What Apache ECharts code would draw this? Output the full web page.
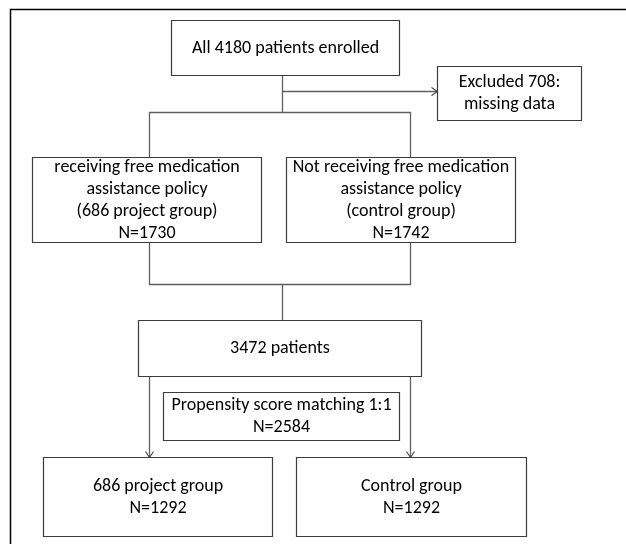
<!DOCTYPE html>
<html>
<head>
<meta charset="utf-8">
<script src="https://cdn.jsdelivr.net/npm/echarts@6/dist/echarts.min.js"></script>
<style>
  html, body { margin: 0; padding: 0; background: #fff; }
  #chart { width: 626px; height: 544px; }
</style>
</head>
<body>
<div id="chart"></div>
<script>
// text of each box in the flow chart
const boxLabels = [
  'All 4180 patients enrolled',
  'Excluded 708:\nmissing data',
  'receiving free medication\nassistance policy\n(686 project group)\nN=1730',
  'Not receiving free medication\nassistance policy\n(control group)\nN=1742',
  '3472 patients',
  'Propensity score matching 1:1\nN=2584',
  '686 project group\nN=1292',
  'Control group\nN=1292'
]

// layout: [x0, y0, x1, y1] in page units (y grows downward)
const boxLayout = [
  [171, 20, 399, 75],
  [437, 66, 581, 120],
  [32, 157, 261, 242],
  [286, 157, 515, 242],
  [138, 320, 421, 376],
  [163, 392, 399, 440],
  [43, 457, 272, 536],
  [296, 457, 526, 536]
]

// connectors: list of points, and whether they end in an arrow
const linkPaths = [
  [[282, 75], [282, 112]],
  [[282, 91], [437, 91]],
  [[149, 157], [149, 112], [410, 112], [410, 157]],
  [[149, 242], [149, 284], [410, 284], [410, 242]],
  [[282, 284], [282, 320]],
  [[149, 376], [149, 457]],
  [[410, 376], [410, 457]]
]
const linkArrow = [false, true, false, false, false, true, true]

const FONT = '18px Carlito, Lato, sans-serif'

const chart = echarts.init(document.getElementById('chart'), null, { renderer: 'canvas' })

function crisp(p) {
  return [Math.round(p[0]) + 0.5, Math.round(p[1]) + 0.5]
}

chart.setOption({
  backgroundColor: '#fff',
  animation: false,
  grid: { left: 0, right: 0, top: 0, bottom: 0 },
  xAxis: { type: 'value', min: 0, max: 626, show: false },
  yAxis: { type: 'value', min: 0, max: 544, inverse: true, show: false },
  series: [
    {
      // outer frame (left and top edges only visible)
      type: 'custom',
      silent: true,
      data: [[0]],
      renderItem(params, api) {
        const pts = [[10, 560], [10, 9], [640, 9]].map(p => crisp(api.coord(p)))
        return {
          type: 'polyline',
          shape: { points: pts },
          style: { stroke: '#000', lineWidth: 1.5, fill: null }
        }
      }
    },
    {
      type: 'custom',
      silent: true,
      data: linkPaths.map((p, i) => [i]),
      renderItem(params, api) {
        const i = params.dataIndex
        const pts = linkPaths[i].map(p => crisp(api.coord(p)))
        const children = [{
          type: 'polyline',
          shape: { points: pts },
          style: { stroke: '#5f5f5f', lineWidth: 1.3, fill: null }
        }]
        if (linkArrow[i]) {
          const a = pts[pts.length - 2]
          const b = pts[pts.length - 1]
          const dx = Math.sign(b[0] - a[0])
          const dy = Math.sign(b[1] - a[1])
          const len = 6
          const w = 4
          const head = dx !== 0
            ? [[b[0] - dx * len, b[1] - w], b, [b[0] - dx * len, b[1] + w]]
            : [[b[0] - w, b[1] - dy * len], b, [b[0] + w, b[1] - dy * len]]
          children.push({
            type: 'polyline',
            shape: { points: head },
            style: { stroke: '#444', lineWidth: 1.1, fill: null }
          })
        }
        return { type: 'group', children }
      }
    },
    {
      type: 'custom',
      silent: true,
      data: boxLayout.map((b, i) => [i]),
      renderItem(params, api) {
        const i = params.dataIndex
        const b = boxLayout[i]
        const p0 = crisp(api.coord([b[0], b[1]]))
        const p1 = crisp(api.coord([b[2], b[3]]))
        return {
          type: 'group',
          children: [
            {
              type: 'rect',
              shape: { x: p0[0], y: p0[1], width: p1[0] - p0[0], height: p1[1] - p0[1] },
              style: { fill: '#fff', stroke: '#3c3c3c', lineWidth: 1.2 }
            },
            {
              type: 'text',
              style: {
                text: boxLabels[i],
                x: (p0[0] + p1[0]) / 2,
                y: (p0[1] + p1[1]) / 2,
                align: 'center',
                verticalAlign: 'middle',
                font: FONT,
                lineHeight: 22,
                fill: '#000'
              }
            }
          ]
        }
      }
    }
  ]
})
</script>
</body>
</html>
